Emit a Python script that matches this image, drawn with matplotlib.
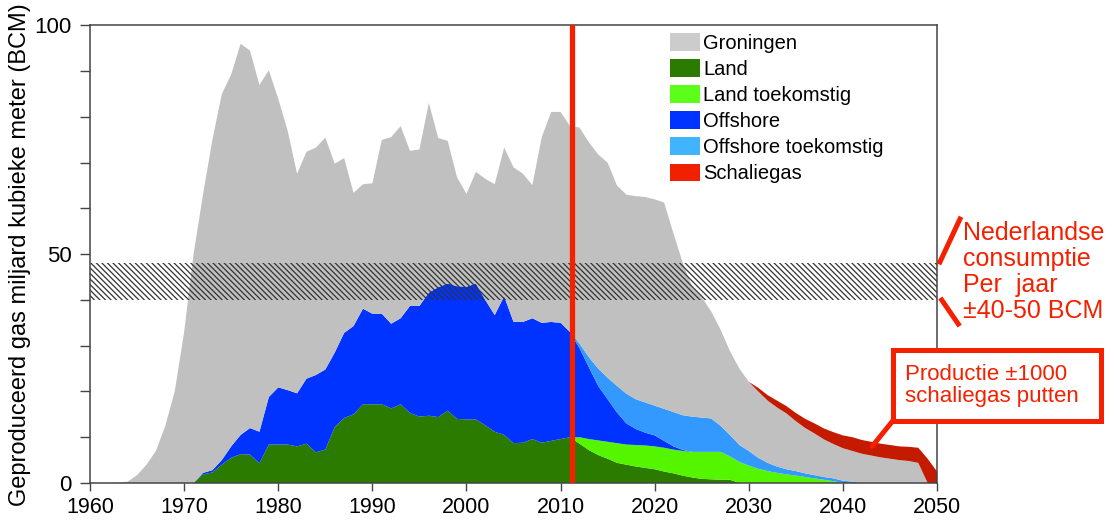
# coding:utf8
import numpy as np
import matplotlib.pyplot as plt
from matplotlib import rcParams
from matplotlib.patches import Patch, Rectangle
from matplotlib.lines import Line2D

rcParams['font.family'] = ['Liberation Sans', 'DejaVu Sans']
rcParams['hatch.linewidth'] = 0.9

years = np.arange(1960, 2051)

land = [
    0, 0, 0, 0, 0, 0, 0, 0, 0, 0,
    0, 0, 1.9, 2.3, 4.0, 5.5, 6.3, 6.2, 4.3, 8.4,
    8.4, 8.4, 8.0, 8.6, 6.7, 7.3, 12.2, 14.2, 15.0, 17.2,
    17.2, 17.2, 16.3, 17.2, 15.3, 14.5, 14.7, 14.4, 15.8, 14.0,
    13.9, 13.9, 12.6, 11.2, 10.5, 8.7, 8.8, 9.6, 8.8, 9.2,
    9.6, 10.0, 8.6, 7.2, 6.1, 5.3, 4.4, 4.0, 3.6, 3.3,
    3.0, 2.5, 2.1, 1.6, 1.2, 0.9, 0.8, 0.7, 0.7, 0,
    0, 0, 0, 0, 0, 0, 0, 0, 0, 0,
    0, 0, 0, 0, 0, 0, 0, 0, 0, 0,
    0]
land_future = [0] * 50 + [
    0, 0, 1.4, 2.4, 3.2, 3.7, 4.3, 4.4, 4.7, 4.9,
    5.0, 5.2, 5.2, 5.4, 5.6, 5.9, 6.0, 6.1, 5.1, 4.6,
    3.8, 3.1, 2.6, 2.2, 1.9, 1.6, 1.3, 1.0, 0.7, 0.4,
    0, 0, 0, 0, 0, 0, 0, 0, 0, 0,
    0]
offshore = [
    0, 0, 0, 0, 0, 0, 0, 0, 0, 0,
    0, 0, 0.3, 0.5, 1.0, 2.5, 4.2, 5.8, 6.9, 10.4,
    12.5, 11.9, 11.6, 14.2, 16.9, 17.5, 16.3, 18.6, 19.3, 20.9,
    19.8, 19.8, 18.5, 18.8, 23.4, 24.2, 26.9, 28.4, 27.8, 29.0,
    29.0, 29.7, 27.4, 25.5, 30.3, 26.5, 26.4, 26.4, 26.2, 26.0,
    25.4, 23.0, 19.5, 15.7, 11.9, 9.3, 6.7, 4.6, 3.5, 2.8,
    2.4, 1.5, 0.7, 0.2, 0, 0, 0, 0, 0, 0,
    0, 0, 0, 0, 0, 0, 0, 0, 0, 0,
    0, 0, 0, 0, 0, 0, 0, 0, 0, 0,
    0]
offshore_future = [0] * 50 + [
    0, 0, 1.0, 2.2, 3.8, 4.7, 5.8, 6.5, 6.5, 6.6,
    6.5, 7.0, 7.5, 7.6, 7.7, 7.5, 7.3, 5.7, 4.7, 3.7,
    3.2, 2.4, 1.8, 1.4, 1.1, 1.0, 0.8, 0.7, 0.6, 0.6,
    0.5, 0.3, 0, 0, 0, 0, 0, 0, 0, 0,
    0]
groningen = [
    0, 0, 0, 0, 0.3, 1.7, 4.0, 7.0, 12.5, 20.0,
    33.0, 50.0, 60.8, 72.2, 80.0, 81.3, 85.5, 82.5, 75.8, 71.4,
    63.1, 56.7, 48.0, 49.6, 49.7, 50.7, 41.3, 38.2, 29.1, 27.2,
    28.5, 38.0, 40.8, 42.0, 33.9, 34.2, 41.5, 32.6, 31.2, 23.8,
    20.3, 24.4, 26.5, 28.6, 32.5, 33.8, 32.4, 29.1, 40.6, 45.9,
    46.1, 45.0, 47.2, 47.0, 46.8, 47.0, 43.8, 43.5, 44.4, 44.9,
    45.1, 45.1, 39.0, 33.2, 28.2, 26.3, 23.4, 21.0, 18.3, 16.7,
    15.1, 14.5, 13.6, 12.9, 12.2, 10.9, 9.9, 9.1, 8.2, 7.5,
    7.1, 6.7, 6.4, 6.0, 5.6, 5.3, 5.0, 4.8, 4.4, 0,
    0]
shale = [0] * 70 + [
    0, 0.8, 1.2, 1.5, 1.6, 1.8, 2.0, 2.2, 2.4, 2.6,
    2.8, 3.0, 3.0, 3.0, 3.0, 3.0, 3.0, 3.1, 3.3, 5.3,
    2.5]

labels = ["Groningen", "Land", "Land toekomstig", "Offshore",
          "Offshore toekomstig", "Schaliegas"]
consumption = (40, 48)
now_year = 2011.2

red = '#f52000'
fill_colors = ['#2a7b00', '#55f500', '#0033ff', '#3399ff', '#c0c0c0', '#c41a00']
legend_colors = ['#cccccc', '#2a7b00', '#5cff1a', '#0033ff', '#40b4ff', '#f02000']

fig = plt.figure(figsize=(11.17, 5.2), dpi=100)
ax = fig.add_axes([0.0806, 0.0712, 0.7583, 0.8798])

ax.stackplot(years, land, land_future, offshore, offshore_future,
             groningen, shale, colors=fill_colors, linewidth=0)

# consumptie band
ax.fill_between([1960, 2050], consumption[0], consumption[1], facecolor='none',
                edgecolor='#333333', hatch='\\' * 6, linewidth=0)

ax.axvline(now_year, color=red, lw=3.8, zorder=5)

ax.set_xlim(1960, 2050)
ax.set_ylim(0, 100)
ax.set_xticks(range(1960, 2051, 10))
yt = list(range(0, 101, 10))
ax.set_yticks(yt)
ax.set_yticklabels([str(v) if v % 50 == 0 else '' for v in yt])
ax.tick_params(axis='x', direction='out', length=6, width=1, labelsize=15.5,
               pad=4, color='#444444')
ax.tick_params(axis='y', direction='out', length=7, width=1, labelsize=16,
               pad=6, color='#444444')
for s in ax.spines.values():
    s.set_color('#444444')
    s.set_linewidth(1.1)
ax.set_ylabel("Geproduceerd gas miljard kubieke meter (BCM)", fontsize=17,
              labelpad=3)

handles = [Patch(facecolor=c, edgecolor='none') for c in legend_colors]
ax.legend(handles, labels, loc='upper left', bbox_to_anchor=(0.685, 0.983),
          frameon=False, fontsize=14.5, handlelength=1.5, handleheight=0.95,
          handletextpad=0.15, labelspacing=0.32, borderpad=0,
          borderaxespad=0)

# annotaties rechts
fig.text(0.862, 0.477, "Nederlandse\nconsumptie\nPer  jaar\n\u00b140-50 BCM",
         color=red, fontsize=18, ha='left', va='center', linespacing=1.12)
fig.add_artist(Line2D([0.8415, 0.8594], [0.4962, 0.5788], color=red, lw=3.6,
                      transform=fig.transFigure))
fig.add_artist(Line2D([0.8431, 0.8579], [0.4231, 0.3769], color=red, lw=3.6,
                      transform=fig.transFigure))

ax.annotate('', xy=(2043.1, 8.0), xycoords='data', xytext=(0.8013, 0.196),
            textcoords='figure fraction',
            arrowprops=dict(arrowstyle='-', color=red, lw=3.6, shrinkA=0,
                            shrinkB=0), annotation_clip=False)
fig.add_artist(Rectangle((0.7992, 0.191), 0.1862, 0.136, facecolor='white',
                         edgecolor=red, lw=3.6, transform=fig.transFigure))
fig.text(0.8102, 0.259, "Productie \u00b11000\nschaliegas putten", color=red,
         fontsize=16, ha='left', va='center', linespacing=1.1)

plt.savefig("out.png", dpi=100)
